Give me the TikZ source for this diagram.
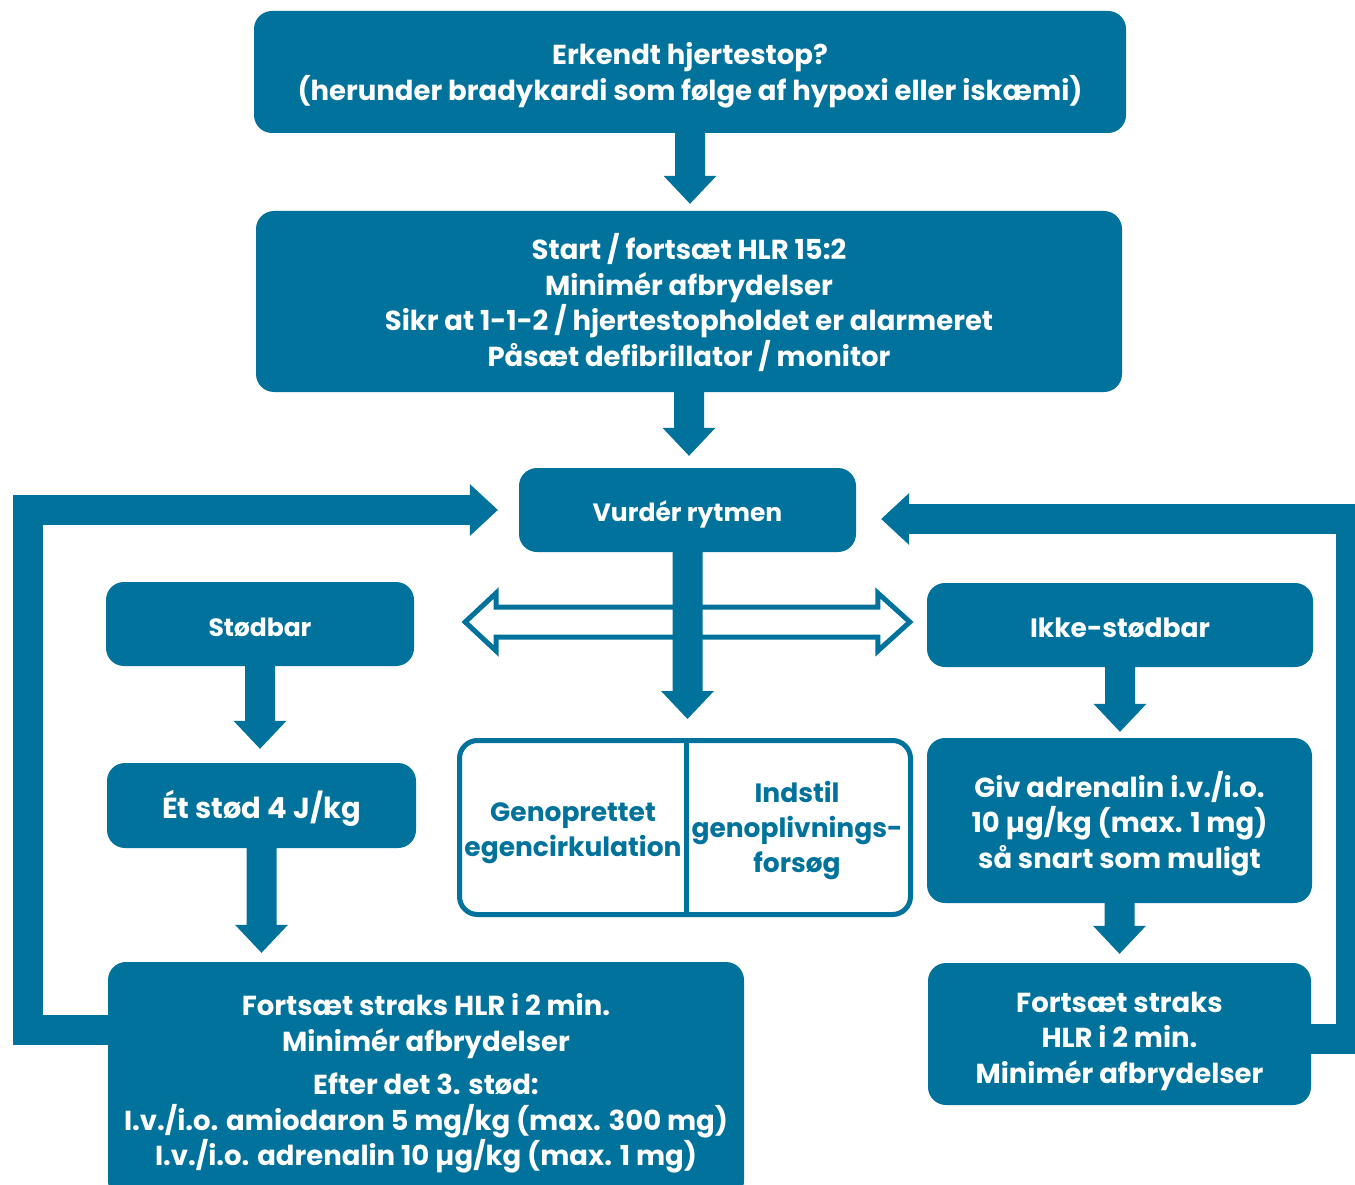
\documentclass[tikz,border=0pt]{standalone}
\usepackage{fontspec}
\setmainfont{Poppins}
\usetikzlibrary{calc}
\definecolor{hb}{RGB}{0,114,155}
\tikzset{
  box/.style={fill=hb, rounded corners=18pt, inner sep=0pt},
  boxtext/.style={text=white, align=center, inner sep=0pt,
    font=\bfseries\fontsize{27.5}{35.5}\selectfont},
  midtext/.style={boxtext, font=\bfseries\fontsize{26.5}{35}\selectfont},
  smalltext/.style={boxtext, font=\bfseries\fontsize{25}{30}\selectfont},
  bigtext/.style={boxtext, font=\bfseries\fontsize{29}{35}\selectfont},
  splitbox/.style={draw=hb, line width=5pt, fill=white, rounded corners=18pt, inner sep=0pt},
  splittext/.style={text=hb, align=center, inner sep=0pt, font=\bfseries\fontsize{26.5}{35}\selectfont},
  conn/.style={fill=hb},
  loopline/.style={draw=hb, line width=30pt, line join=miter},
  openarrow/.style={draw=hb, line width=5pt, fill=white, line join=miter},
}
\newcommand\vconn[3]{%
  \fill[conn] let \p1=(#1.south), \p2=(#2.north) in
    (\x1-15pt,\y1) -- (\x1+15pt,\y1) -- (\x1+15pt,\y2+#3pt+28pt) -- (\x1+26.5pt,\y2+#3pt+28pt)
    -- (\x1,\y2+#3pt) -- (\x1-26.5pt,\y2+#3pt+28pt) -- (\x1-15pt,\y2+#3pt+28pt) -- cycle;}
\begin{document}
\begin{tikzpicture}[x=1pt,y=-1pt]
\useasboundingbox (0,0) rectangle (1355,1185);
\clip (0,0) rectangle (1355,1185);
\fill[white] (0,0) rectangle (1355,1185);
% boxes
\node[box, minimum width=872pt, minimum height=122pt] (top) at (690,72) {};
\node[boxtext] (top-t) at ($(top)+(0,3.5)$)
  {Erkendt hjertestop?\\(herunder bradykardi som følge af hypoxi eller iskæmi)};
\node[box, minimum width=866pt, minimum height=181pt] (start) at (689,301.5) {};
\node[boxtext] (start-t) at ($(start)+(0,1)$)
  {Start / fortsæt HLR 15:2\\Minimér afbrydelser\\Sikr at 1-1-2 / hjertestopholdet er alarmeret\\Påsæt defibrillator / monitor};
\node[box, minimum width=337pt, minimum height=84pt] (vurd) at (687.5,510) {};
\node[smalltext] (vurd-t) at ($(vurd)+(0,4.5)$) {Vurdér rytmen};
\node[box, minimum width=308pt, minimum height=84pt] (stod) at (260,624) {};
\node[smalltext] (stod-t) at ($(stod)+(0,3)$) {Stødbar};
\node[box, minimum width=386pt, minimum height=84pt] (ikke) at (1120,625) {};
\node[midtext] (ikke-t) at ($(ikke)+(0,3)$) {Ikke-stødbar};
\node[box, minimum width=309pt, minimum height=85pt] (et) at (261.5,805.5) {};
\node[bigtext] (et-t) at ($(et)+(0,3)$) {Ét stød 4 J/kg};
\node[box, minimum width=385pt, minimum height=165pt] (giv) at (1119.5,820.5) {};
\node[boxtext] (giv-t) at ($(giv)+(0,3)$)
  {Giv adrenalin i.v./i.o.\\10 µg/kg (max. 1 mg)\\så snart som muligt};
\node[box, minimum width=383pt, minimum height=142pt] (fright) at (1119.5,1034) {};
\node[boxtext] (fright-t) at ($(fright)+(0,7)$)
  {Fortsæt straks\\HLR i 2 min.\\Minimér afbrydelser};
\node[box, minimum width=636pt, minimum height=237pt] (fleft) at (426,1080.5) {};
\node[boxtext] (fleft-t) at ($(fleft)+(0,3)$)
  {Fortsæt straks HLR i 2 min.\\Minimér afbrydelser\\[8pt]Efter det 3. stød:\\I.v./i.o. amiodaron 5 mg/kg (max. 300 mg)\\I.v./i.o. adrenalin 10 µg/kg (max. 1 mg)};
% split outcome box
\node[splitbox, minimum width=451pt, minimum height=174pt] (split) at (685,827.5) {};
\draw[draw=hb, line width=5pt] ($(split.north)+(1.5,0)$) -- ($(split.south)+(1.5,0)$);
\node[splittext] (gen) at ($(split.center)+(-112,5.5)$) {Genoprettet\\egencirkulation};
\node[splittext] (ind) at ($(split.center)+(112,3)$) {Indstil\\genoplivnings-\\forsøg};
% double open arrow
\coordinate (dl) at ($(stod.east)+(51,-2)$);
\coordinate (dr) at ($(ikke.west)+(-17,-3)$);
\draw[openarrow] (dl) -- ++(31,-29) -- ++(0,14) -- ($(dr)+(-32,-15)$) -- ++(0,-14) -- (dr)
  -- ++(-32,29) -- ++(0,-14) -- ($(dl)+(31,15)$) -- ++(0,14) -- cycle;
% straight connectors
\vconn{top}{start}{7}
\vconn{start}{vurd}{12}
\vconn{vurd}{split}{19}
\vconn{stod}{et}{14}
\vconn{et}{fleft}{9}
\vconn{ikke}{giv}{6}
\vconn{giv}{fright}{9}
% left loop
\coordinate (lt) at ($(vurd.west)+(-21,0)$);
\draw[loopline] ($(fleft.north west)+(1,68.5)$) -| ($(lt)+(-470,0)$) -- ($(lt)+(-28,0)$);
\fill[conn] (lt) -- ++(-28,-26) -- ++(0,52) -- cycle;
% right loop
\coordinate (rt) at ($(vurd.east)+(25,9)$);
\draw[loopline] ($(fright.north east)+(-1,76)$) -| ($(rt)+(470,0)$) -- ($(rt)+(28,0)$);
\fill[conn] (rt) -- ++(28,-26) -- ++(0,52) -- cycle;
\end{tikzpicture}
\end{document}
